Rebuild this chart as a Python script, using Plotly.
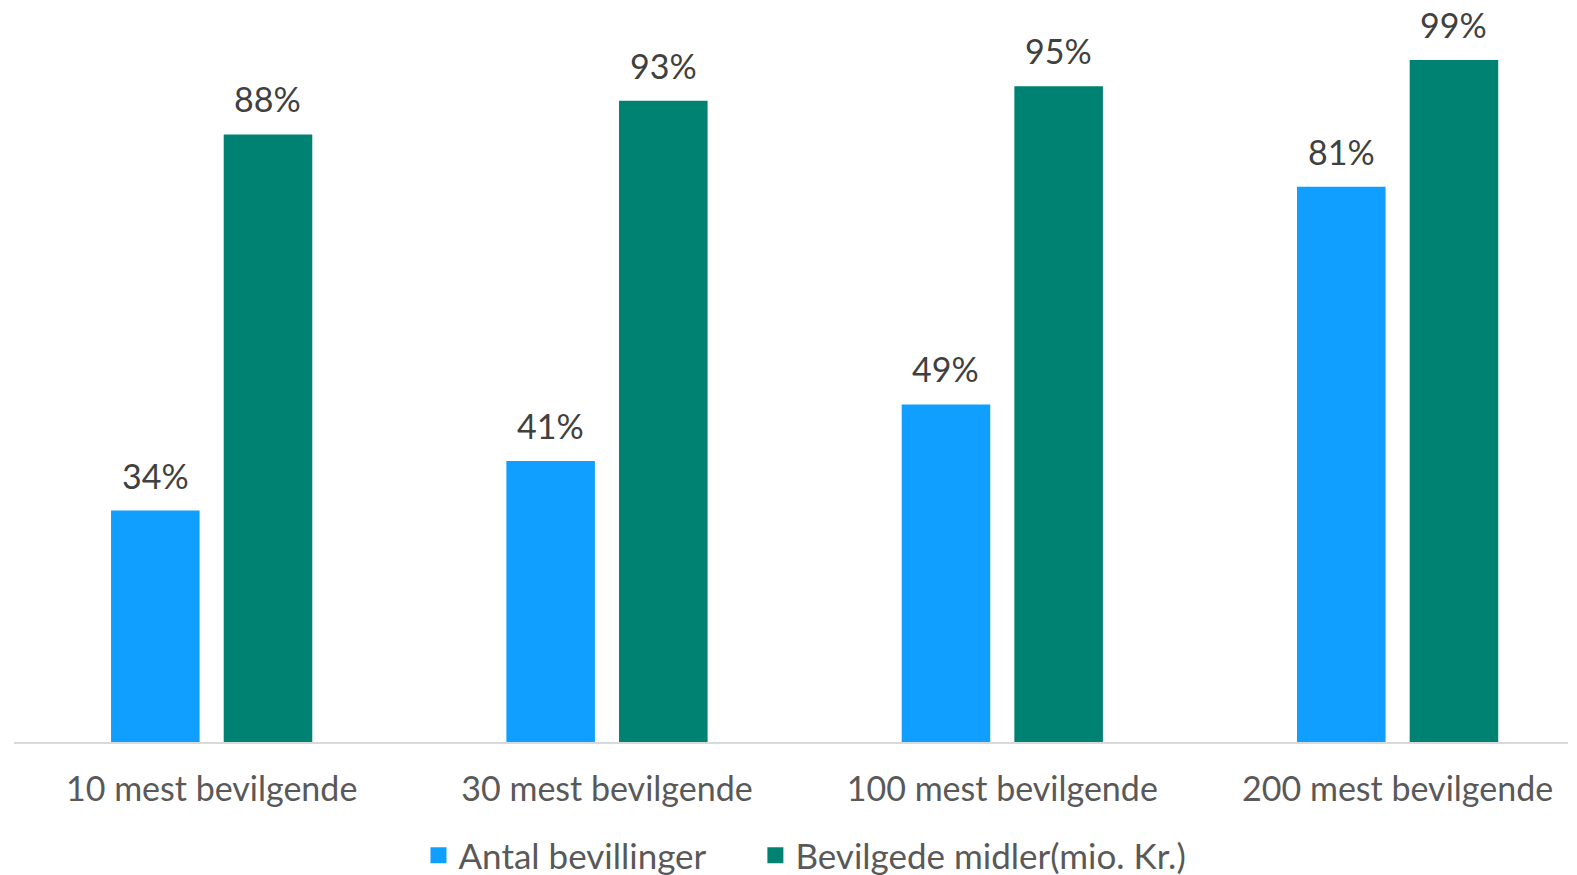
import plotly.graph_objects as go

categories = ["10 mest bevilgende", "30 mest bevilgende", "100 mest bevilgende", "200 mest bevilgende"]
antal = [33.6, 40.8, 49.0, 80.6]
midler = [88.2, 93.1, 95.2, 99.0]
series_names = ["Antal bevillinger", "Bevilgede midler(mio. Kr.)"]
colors = ["#109FFF", "#008272"]

FONT = "Lato"
bargap = 0.43
x = list(range(len(categories)))
fig = go.Figure()
for k, (name, vals, col) in enumerate(zip(series_names, [antal, midler], colors)):
    fig.add_trace(go.Bar(
        x=x, y=vals, name=name, marker_color=col, marker_line_width=0,
        showlegend=False, hovertemplate="%{y:.0f}%<extra></extra>",
    ))
    # legend entry with larger square marker
    legend_label = name + ("\u00a0" * 5 if k == 0 else "")
    fig.add_trace(go.Scatter(
        x=[None], y=[None], mode="markers", name=legend_label,
        marker=dict(symbol="square", size=21, color=col),
    ))

# value labels above bars
slot = (1 - bargap) / 2
for k, vals in enumerate([antal, midler]):
    off = (-slot / 2) if k == 0 else (slot / 2)
    for i, v in enumerate(vals):
        fig.add_annotation(
            x=x[i] + off, y=v, text=f"{v:.0f}%", showarrow=False,
            yanchor="bottom", yshift=13,
            font=dict(size=34, color="#404040", family=FONT),
        )

fig.update_layout(
    width=1577, height=875,
    paper_bgcolor="white", plot_bgcolor="white",
    margin=dict(l=6, r=17, t=0, b=141, autoexpand=False),
    barmode="group", bargap=bargap, bargroupgap=0.214,
    font=dict(family=FONT, color="#595959", size=34),
    showlegend=True,
    legend=dict(orientation="h", x=0.509, xanchor="center", y=-0.1546, yanchor="middle",
                font=dict(size=35, color="#595959", family=FONT),
                traceorder="normal", itemwidth=30, tracegroupgap=0),
)
fig.update_xaxes(
    tickmode="array", tickvals=x, ticktext=categories, range=[-0.5, 3.431],
    showline=True, linecolor="#D9D9D9", linewidth=2, showgrid=False, zeroline=False,
    ticks="", ticklabelstandoff=16, tickfont=dict(size=34, color="#595959", family=FONT),
)
fig.update_yaxes(range=[0, 106.55], visible=False, showgrid=False, zeroline=False)
fig.write_html("out.html")
